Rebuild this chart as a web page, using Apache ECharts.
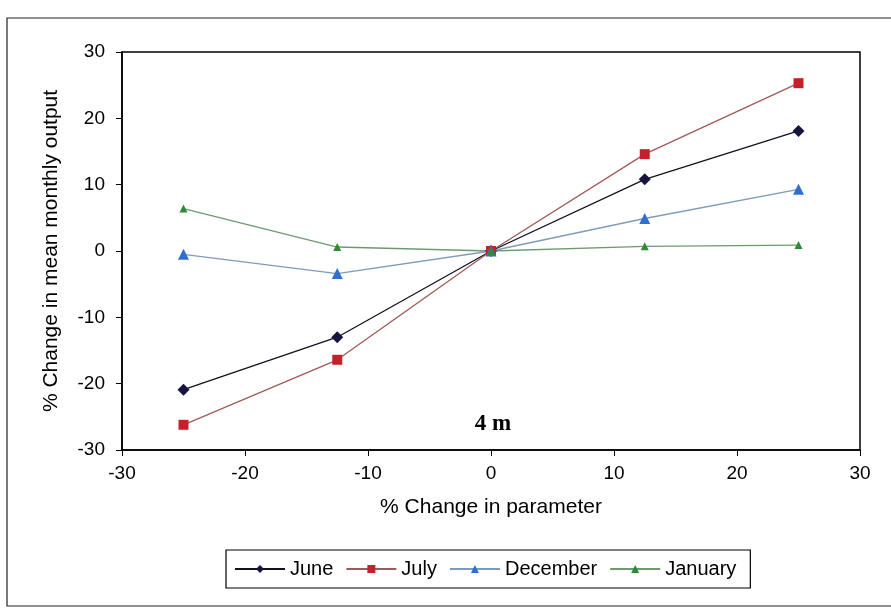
<!DOCTYPE html>
<html>
<head>
<meta charset="utf-8">
<script src="https://cdn.jsdelivr.net/npm/echarts@6/dist/echarts.min.js"></script>
<style>
  html, body { margin: 0; padding: 0; background: #fff; }
  #chart { width: 891px; height: 611px; }
</style>
</head>
<body>
<div id="chart"></div>
<script>
// % change applied to the parameter
const paramChange = [-25, -12.5, 0, 12.5, 25];

// % change in mean monthly output, per month
const june     = [-20.9, -13.0, 0, 10.8, 18.1];
const july     = [-26.2, -16.4, 0, 14.6, 25.3];
const december = [-0.5,  -3.4,  0, 4.9,  9.3];
const january  = [6.4,   0.6,   0, 0.7,  0.9];

const seriesNames = ['June', 'July', 'December', 'January'];

function pairs(values) {
  return paramChange.map((x, i) => [x, values[i]]);
}

const FONT = 'Liberation Sans, Arial, sans-serif';

const chart = echarts.init(document.getElementById('chart'), null, { renderer: 'canvas' });

chart.setOption({
  backgroundColor: '#ffffff',
  animation: false,
  grid: {
    left: 122, right: 31, top: 52, bottom: 161,
    show: true, borderColor: '#000', borderWidth: 1.5
  },
  xAxis: {
    type: 'value', min: -30, max: 30, interval: 10,
    name: '% Change in parameter', nameLocation: 'middle', nameGap: 47,
    nameTextStyle: { fontFamily: FONT, fontSize: 21, color: '#000' },
    axisLine: { onZero: false, lineStyle: { color: '#000', width: 1.5 } },
    axisTick: { show: true, inside: false, length: 6, lineStyle: { color: '#000' } },
    axisLabel: { fontFamily: FONT, fontSize: 19, color: '#000', margin: 14 },
    splitLine: { show: false }
  },
  yAxis: {
    type: 'value', min: -30, max: 30, interval: 10,
    name: '% Change in mean monthly output', nameLocation: 'middle', nameGap: 60,
    nameTextStyle: { fontFamily: FONT, fontSize: 21, color: '#000' },
    axisLine: { onZero: false, lineStyle: { color: '#000', width: 1.5 } },
    axisTick: { show: true, inside: false, length: 6, lineStyle: { color: '#000' } },
    axisLabel: { fontFamily: FONT, fontSize: 19, color: '#000', margin: 17 },
    splitLine: { show: false }
  },
  legend: {
    data: seriesNames,
    left: 226, top: 550,
    orient: 'horizontal',
    borderColor: '#000', borderWidth: 1.2,
    padding: [9, 14, 9, 8],
    itemWidth: 50, itemHeight: 10, itemGap: 12,
    textStyle: { fontFamily: FONT, fontSize: 20, color: '#000' }
  },
  series: [
    {
      name: 'June', type: 'line', data: pairs(june),
      symbol: 'diamond', symbolSize: 12,
      lineStyle: { color: '#111122', width: 1.3 },
      itemStyle: { color: '#151540' }
    },
    {
      name: 'July', type: 'line', data: pairs(july),
      symbol: 'rect', symbolSize: 10,
      lineStyle: { color: '#a05a5a', width: 1.3 },
      itemStyle: { color: '#c8202a' }
    },
    {
      name: 'December', type: 'line', data: pairs(december),
      symbol: 'triangle', symbolSize: 11,
      lineStyle: { color: '#7e9cb8', width: 1.3 },
      itemStyle: { color: '#2f6fd0' }
    },
    {
      name: 'January', type: 'line', data: pairs(january),
      symbol: 'triangle', symbolSize: 8,
      lineStyle: { color: '#6f9a6f', width: 1.3 },
      itemStyle: { color: '#2f8a35' }
    }
  ],
  graphic: [
    {
      type: 'rect', silent: true, z: -1,
      shape: { x: 7, y: 18, width: 900, height: 588 },
      style: { fill: 'none', stroke: '#222', lineWidth: 1.2 }
    },
    {
      type: 'text', x: 493, y: 424,
      style: {
        text: '4 m', fill: '#000',
        align: 'center', verticalAlign: 'middle',
        font: 'bold 23px "Liberation Serif", "Times New Roman", serif'
      }
    }
  ]
});
</script>
</body>
</html>
